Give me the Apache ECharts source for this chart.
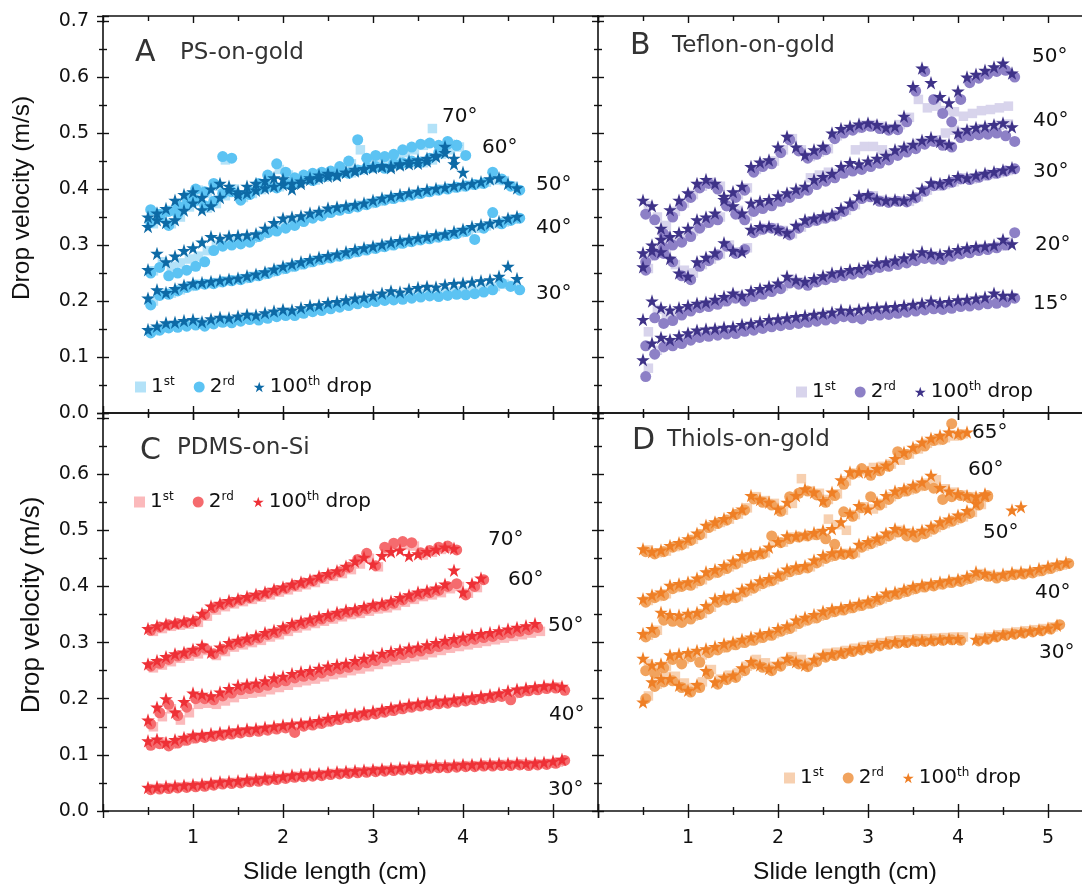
<!DOCTYPE html>
<html><head><meta charset="utf-8">
<script src="https://cdn.jsdelivr.net/npm/echarts@6/dist/echarts.min.js"></script>
<style>html,body{margin:0;padding:0;background:#fff}#c{width:1082px;height:884px}</style>
</head><body><div id="c"></div><script>
// ---------- DATA (drop velocity, m/s; x sampled every 0.1 cm from the start value) ----------
const X_START = { first: 0.56, second: 0.53, hundredth: 0.50 };
const X_STEP = 0.1;
const X_TICK_LABELS = ['1', '2', '3', '4', '5'];

// Panel A: PS-on-gold
const A30_1st = [.147,.152,.156,.158,.160,.162,.160,.164,.167,.166,.169,.172,.171,.175,.178,.180,.179,.183,.186,.188,.191,.194,.197,.200,.202,.204,.206,.207,.209,.211,.213,.214,.215,.216,.218,.219,.221,.223,.226,.230,.228];
const A30_2nd = [.143,.148,.152,.153,.155,.157,.155,.159,.162,.161,.164,.167,.166,.169,.172,.174,.174,.178,.181,.183,.186,.189,.192,.195,.197,.199,.201,.202,.203,.205,.207,.209,.208,.210,.212,.211,.213,.216,.220,.232,.226,.220];
const A30_100th = [.149,.155,.161,.162,.165,.167,.163,.168,.171,.170,.173,.176,.175,.179,.182,.185,.184,.188,.192,.193,.197,.199,.202,.205,.207,.210,.214,.218,.216,.221,.224,.226,.225,.229,.231,.232,.234,.236,.238,.244,.262,.240];
const A40_1st = [.200,.214,.214,.220,.226,.230,.231,.233,.236,.238,.240,.244,.247,.251,.256,.260,.264,.268,.272,.276,.279,.282,.286,.290,.293,.296,.299,.302,.305,.308,.311,.313,.316,.319,.322,.326,.330,.334,.338,.341,.346];
const A40_2nd = [.193,.210,.212,.218,.224,.228,.230,.231,.234,.236,.238,.242,.245,.249,.254,.258,.262,.266,.270,.274,.277,.280,.284,.288,.291,.294,.297,.300,.303,.306,.309,.311,.314,.317,.320,.324,.310,.330,.358,.338,.344,.348];
const A40_100th = [.205,.220,.215,.222,.228,.232,.233,.235,.237,.239,.241,.245,.248,.252,.257,.262,.266,.270,.274,.278,.281,.284,.288,.292,.295,.298,.301,.305,.308,.310,.313,.315,.318,.320,.324,.328,.333,.336,.339,.342,.348,.351];
const A50_1st = [.254,.270,.262,.268,.275,.280,.290,.300,.304,.308,.310,.312,.318,.326,.333,.340,.344,.348,.353,.357,.362,.365,.368,.371,.374,.378,.382,.385,.388,.391,.394,.397,.400,.402,.404,.407,.409,.412,.416,.415,.405];
const A50_2nd = [.250,.260,.245,.250,.255,.262,.270,.290,.298,.300,.302,.305,.315,.322,.325,.330,.335,.342,.348,.352,.358,.362,.365,.368,.372,.376,.380,.383,.386,.389,.392,.395,.398,.400,.403,.405,.408,.410,.430,.418,.405,.398];
const A50_100th = [.256,.285,.270,.280,.290,.295,.305,.315,.312,.316,.317,.318,.320,.330,.340,.348,.350,.352,.357,.360,.366,.368,.370,.372,.375,.380,.384,.387,.390,.393,.396,.399,.401,.403,.406,.408,.410,.413,.418,.420,.410,.402];
const A60_1st = [.338,.352,.338,.350,.368,.378,.366,.374,.388,.396,.389,.392,.399,.403,.404,.409,.411,.416,.416,.421,.424,.428,.429,.434,.437,.439,.439,.443,.445,.447,.447,.452,.462,.470,.475];
const A60_2nd = [.340,.350,.335,.355,.372,.380,.370,.378,.392,.395,.388,.390,.400,.405,.402,.410,.412,.418,.415,.422,.425,.430,.428,.434,.438,.440,.437,.445,.447,.450,.448,.455,.465,.480,.478,.460];
const A60_100th = [.333,.357,.340,.345,.362,.375,.363,.370,.385,.399,.390,.393,.398,.402,.405,.408,.410,.414,.417,.420,.423,.426,.430,.435,.436,.438,.440,.441,.443,.445,.446,.450,.458,.476,.455,.430];
const A70_1st = [.358,.350,.362,.375,.388,.398,.392,.405,.452,.400,.385,.398,.408,.420,.435,.425,.410,.418,.424,.428,.430,.435,.445,.470,.450,.455,.455,.460,.465,.470,.478,.508,.475,.480];
const A70_2nd = [.363,.355,.360,.370,.385,.400,.395,.410,.458,.455,.380,.395,.410,.425,.445,.430,.420,.425,.428,.430,.432,.440,.450,.488,.455,.460,.458,.462,.470,.475,.480,.482,.478,.485,.478];
const A70_100th = [.350,.345,.365,.380,.390,.395,.385,.400,.410,.405,.395,.405,.410,.415,.420,.418,.400,.410,.420,.425,.428,.424,.430,.432,.436,.440,.442,.438,.445,.450,.452,.455,.460,.465,.445];

// Panel B: Teflon-on-gold
const B15_1st = [.080,.112,.125,.126,.131,.136,.141,.143,.145,.147,.148,.152,.154,.157,.160,.162,.164,.166,.168,.170,.172,.174,.178,.177,.178,.181,.182,.183,.184,.186,.188,.190,.193,.191,.193,.196,.197,.199,.201,.203,.204];
const B15_2nd = [.065,.105,.118,.120,.124,.130,.135,.137,.139,.141,.142,.146,.148,.151,.154,.156,.158,.160,.162,.164,.166,.168,.172,.170,.168,.174,.175,.176,.178,.180,.182,.184,.186,.185,.187,.190,.191,.193,.195,.196,.198,.205];
const B15_100th = [.095,.125,.135,.131,.138,.143,.148,.150,.151,.153,.154,.158,.160,.163,.167,.168,.170,.172,.174,.176,.178,.180,.184,.183,.185,.187,.188,.189,.190,.192,.194,.196,.200,.197,.199,.202,.203,.205,.207,.214,.210,.210];
const B20_1st = [.145,.185,.175,.175,.182,.188,.192,.194,.198,.204,.210,.206,.213,.217,.222,.227,.238,.234,.232,.237,.242,.246,.249,.252,.254,.259,.264,.266,.269,.272,.277,.282,.280,.279,.284,.288,.291,.294,.295,.298,.305];
const B20_2nd = [.120,.170,.160,.165,.175,.182,.188,.190,.194,.200,.205,.200,.208,.212,.217,.222,.232,.230,.228,.234,.238,.242,.245,.248,.250,.256,.260,.262,.265,.268,.272,.276,.275,.274,.280,.284,.286,.290,.292,.295,.300,.322];
const B20_100th = [.167,.200,.188,.184,.188,.192,.196,.198,.203,.208,.214,.210,.218,.222,.226,.232,.244,.238,.235,.240,.245,.250,.252,.256,.258,.262,.268,.270,.273,.277,.282,.288,.285,.283,.288,.292,.295,.297,.298,.300,.310,.302];
const B30_1st = [.258,.286,.286,.265,.255,.250,.265,.275,.284,.300,.288,.295,.325,.330,.331,.326,.320,.332,.342,.346,.350,.354,.362,.372,.385,.388,.380,.378,.379,.378,.386,.398,.405,.408,.413,.420,.418,.423,.426,.429,.433];
const B30_2nd = [.255,.282,.285,.270,.245,.238,.262,.272,.282,.298,.285,.292,.322,.328,.330,.325,.318,.330,.340,.344,.348,.352,.360,.370,.383,.386,.378,.376,.378,.377,.384,.396,.406,.407,.412,.418,.417,.421,.425,.428,.432,.436];
const B30_100th = [.261,.290,.288,.276,.250,.244,.270,.278,.286,.304,.290,.288,.328,.333,.333,.328,.322,.335,.345,.348,.352,.355,.365,.375,.388,.390,.382,.380,.381,.380,.388,.400,.411,.410,.415,.422,.420,.425,.428,.431,.434,.438];
const B40_1st = [.280,.292,.305,.308,.315,.325,.338,.345,.350,.380,.362,.352,.368,.372,.376,.384,.390,.397,.420,.425,.430,.428,.436,.470,.476,.476,.470,.462,.468,.474,.480,.485,.488,.500,.505,.502,.505,.508,.510,.514,.516];
const B40_2nd = [.270,.285,.295,.300,.305,.315,.330,.340,.345,.370,.355,.345,.360,.365,.370,.378,.385,.392,.398,.408,.414,.420,.428,.432,.435,.440,.446,.452,.460,.466,.472,.480,.485,.478,.475,.492,.495,.497,.498,.500,.495,.485];
const B40_100th = [.286,.300,.310,.315,.322,.330,.345,.350,.357,.387,.370,.357,.375,.378,.381,.388,.393,.400,.405,.417,.422,.428,.440,.447,.445,.450,.455,.460,.470,.475,.480,.487,.492,.485,.480,.500,.506,.510,.512,.515,.518,.511];
const B50_1st = [.370,.350,.335,.360,.375,.390,.405,.412,.405,.378,.390,.402,.435,.445,.450,.470,.490,.470,.458,.466,.472,.495,.505,.508,.514,.515,.512,.508,.515,.528,.560,.545,.548,.540,.538,.530,.535,.540,.542,.545,.548];
const B50_2nd = [.355,.345,.320,.350,.370,.385,.402,.410,.400,.370,.385,.398,.430,.440,.445,.465,.488,.468,.455,.462,.470,.490,.500,.505,.510,.512,.508,.505,.506,.520,.575,.610,.560,.535,.520,.560,.590,.598,.605,.610,.612,.600];
const B50_100th = [.380,.370,.330,.363,.380,.393,.410,.417,.410,.381,.395,.405,.440,.448,.452,.475,.494,.475,.461,.470,.476,.500,.508,.512,.516,.518,.515,.510,.512,.530,.583,.616,.590,.565,.554,.575,.600,.605,.612,.618,.625,.607];

// Panel C: PDMS-on-Si
const C30_1st = [.040,.041,.042,.043,.044,.045,.046,.048,.050,.051,.052,.054,.055,.057,.058,.060,.062,.063,.064,.065,.067,.068,.069,.070,.071,.072,.073,.074,.075,.076,.077,.078,.079,.079,.080,.081,.081,.082,.082,.083,.083,.084,.083,.084,.085,.087];
const C30_2nd = [.038,.039,.040,.041,.042,.043,.044,.046,.048,.049,.050,.052,.053,.055,.056,.058,.060,.061,.062,.063,.065,.066,.067,.068,.069,.070,.071,.072,.073,.074,.075,.076,.077,.077,.078,.079,.079,.080,.080,.081,.081,.082,.081,.082,.083,.085,.090];
const C30_100th = [.042,.043,.044,.045,.046,.047,.048,.050,.052,.053,.054,.056,.057,.059,.060,.062,.064,.065,.066,.067,.069,.070,.071,.072,.073,.074,.075,.076,.077,.078,.079,.080,.081,.081,.082,.083,.083,.084,.084,.085,.085,.086,.085,.086,.087,.089,.092];
const C40_1st = [.120,.123,.119,.124,.128,.132,.133,.135,.137,.139,.141,.143,.144,.146,.148,.150,.152,.153,.155,.158,.162,.165,.168,.170,.173,.175,.178,.181,.184,.187,.189,.191,.193,.194,.196,.198,.200,.202,.204,.206,.209,.213,.216,.218,.220,.221];
const C40_2nd = [.117,.120,.116,.121,.126,.130,.131,.133,.135,.137,.139,.141,.142,.144,.146,.148,.140,.151,.153,.156,.160,.163,.166,.168,.171,.173,.176,.179,.182,.185,.187,.189,.191,.192,.194,.196,.198,.200,.202,.204,.198,.211,.214,.216,.218,.219,.215];
const C40_100th = [.125,.128,.122,.127,.131,.135,.136,.138,.140,.142,.144,.146,.147,.149,.151,.153,.155,.156,.158,.161,.165,.168,.171,.173,.176,.178,.181,.184,.187,.190,.192,.194,.196,.197,.199,.201,.203,.205,.207,.210,.214,.217,.219,.221,.223,.224,.222];
const C50_1st = [.150,.168,.182,.162,.175,.190,.192,.190,.196,.202,.208,.210,.212,.216,.220,.224,.229,.232,.235,.239,.243,.246,.250,.253,.257,.261,.266,.269,.272,.275,.278,.282,.286,.290,.293,.296,.299,.302,.305,.308,.311,.314,.317,.320];
const C50_2nd = [.155,.175,.190,.170,.185,.200,.200,.198,.205,.210,.216,.218,.220,.224,.229,.232,.237,.240,.242,.246,.250,.253,.256,.260,.264,.268,.273,.276,.279,.282,.285,.289,.293,.297,.300,.303,.306,.309,.311,.314,.317,.320,.323,.327];
const C50_100th = [.162,.185,.200,.176,.195,.210,.208,.205,.212,.218,.224,.226,.228,.232,.237,.240,.245,.248,.250,.254,.258,.261,.263,.268,.272,.276,.281,.284,.287,.290,.292,.296,.300,.304,.307,.310,.313,.316,.318,.321,.324,.327,.330,.334];
const C60_1st = [.255,.260,.266,.272,.276,.280,.286,.277,.284,.292,.296,.300,.304,.310,.314,.320,.326,.330,.334,.338,.342,.346,.350,.352,.356,.360,.362,.366,.372,.377,.382,.385,.389,.396,.400,.388,.398];
const C60_2nd = [.258,.263,.270,.276,.280,.284,.290,.280,.288,.296,.300,.304,.308,.314,.318,.324,.330,.334,.338,.342,.346,.350,.354,.356,.360,.364,.366,.370,.376,.381,.386,.389,.393,.400,.405,.385,.400,.412];
const C60_100th = [.262,.268,.275,.280,.283,.288,.295,.283,.292,.300,.304,.308,.312,.318,.322,.328,.334,.338,.342,.346,.350,.354,.358,.360,.364,.368,.370,.374,.380,.385,.390,.393,.397,.404,.429,.390,.405,.415];
const C70_1st = [.320,.325,.329,.331,.333,.336,.347,.358,.364,.369,.373,.377,.381,.385,.390,.394,.399,.403,.407,.413,.418,.423,.430,.440,.450,.435,.462,.470,.474,.472,.456,.461,.466,.468];
const C70_2nd = [.322,.328,.332,.334,.336,.338,.350,.362,.368,.372,.376,.380,.384,.388,.393,.397,.402,.406,.410,.416,.421,.426,.434,.448,.459,.437,.470,.477,.480,.478,.460,.464,.470,.472,.465];
const C70_100th = [.325,.330,.333,.335,.338,.340,.352,.365,.370,.375,.378,.382,.386,.390,.395,.399,.404,.408,.412,.418,.423,.428,.436,.445,.452,.440,.455,.462,.465,.455,.458,.462,.466,.470,.468];

// Panel D: Thiols-on-gold
const D30_1st = [.205,.226,.240,.240,.228,.220,.230,.252,.235,.242,.246,.258,.270,.264,.258,.266,.275,.270,.264,.274,.281,.283,.286,.290,.293,.296,.300,.303,.305,.305,.307,.307,.308,.309,.310,.310,null,.308,.310,.314,.317,.319,.321,.323,.325,.328];
const D30_2nd = [.200,.222,.230,.232,.220,.212,.220,.244,.226,.234,.238,.250,.262,.256,.250,.258,.268,.262,.257,.266,.274,.277,.280,.284,.287,.290,.294,.297,.299,.300,.302,.302,.303,.304,.305,.304,null,.303,.306,.310,.313,.315,.317,.319,.321,.324,.332];
const D30_100th = [.194,.230,.236,.236,.224,.215,.225,.250,.230,.238,.242,.255,.266,.260,.254,.262,.272,.266,.260,.270,.278,.280,.283,.287,.290,.293,.297,.300,.302,.302,.304,.304,.305,.306,.307,.307,null,.306,.308,.312,.315,.317,.319,.321,.323,.326,.331];
const D40_1st = [.262,.252,.258,.274,.271,.279,.278,.286,.290,.295,.299,.303,.307,.312,.316,.322,.328,.337,.342,.347,.353,.357,.360,.364,.368,.372,.378,.385,.388,.393,.398,.401,.403,.406,.409,.411,.416,.423,.420,.418,.420,.423,.424,.426,.430,.434,.438];
const D40_2nd = [.250,.245,.255,.270,.262,.275,.265,.282,.287,.292,.296,.300,.304,.309,.313,.320,.325,.334,.340,.344,.350,.355,.358,.362,.366,.370,.376,.382,.386,.391,.396,.399,.401,.404,.407,.409,.414,.420,.418,.415,.418,.421,.422,.424,.428,.432,.437,.441];
const D40_100th = [.272,.260,.262,.278,.280,.282,.286,.289,.293,.298,.301,.306,.310,.315,.318,.325,.330,.340,.345,.350,.356,.360,.362,.366,.370,.374,.380,.388,.390,.395,.400,.403,.405,.408,.411,.413,.418,.426,.423,.420,.422,.425,.426,.428,.432,.436,.440,.443];
const D50_1st = [.313,.322,.345,.343,.342,.347,.352,.363,.375,.379,.382,.392,.400,.407,.412,.420,.428,.432,.435,.444,.452,.457,.459,.460,.472,.478,.484,.492,.500,.495,.492,.497,.505,.512,.518,.524,.532,.546];
const D50_2nd = [.310,.318,.340,.338,.336,.342,.350,.360,.372,.376,.380,.390,.397,.405,.410,.418,.426,.430,.433,.442,.450,.455,.457,.458,.470,.476,.482,.490,.497,.490,.488,.494,.502,.510,.516,.522,.530,.545,.560];
const D50_100th = [.316,.325,.354,.350,.349,.352,.354,.366,.378,.382,.384,.395,.402,.410,.414,.422,.431,.435,.437,.447,.455,.460,.461,.461,.475,.480,.486,.495,.503,.500,.497,.500,.507,.515,.520,.527,.535,.548,.562];
const D60_1st = [.375,.382,.387,.398,.402,.405,.412,.423,.428,.435,.442,.452,.456,.460,.480,.479,.488,.489,.491,.494,.520,.510,.500,.528,.542,.538,.548,.560,.568,.572,.578,.584,.590,.574,.568,.563,.560,.558];
const D60_2nd = [.372,.380,.384,.396,.400,.402,.410,.420,.425,.432,.440,.450,.455,.458,.490,.478,.485,.488,.490,.492,.485,.475,.533,.525,.540,.560,.545,.555,.565,.570,.575,.580,.575,.555,.560,.562,.558,.555,.562];
const D60_100th = [.378,.385,.390,.402,.405,.408,.415,.426,.430,.437,.445,.455,.458,.461,.470,.480,.490,.490,.492,.496,.500,.503,.515,.530,.544,.538,.550,.562,.570,.574,.580,.586,.598,.576,.570,.565,.562,.560,.565,null,null,.536,.542];
const D65_1st = [.465,.460,.463,.471,.476,.484,.494,.507,.514,.520,.529,.540,.560,.553,.548,.536,.548,.592,.570,.566,.555,.565,.588,.602,.606,.612,.614,.618,.625,.636,.645,.655,.660,.665,.668,.672];
const D65_2nd = [.462,.458,.462,.470,.474,.482,.492,.505,.512,.518,.528,.536,.556,.550,.545,.534,.560,.566,.570,.563,.550,.562,.582,.600,.610,.598,.606,.614,.640,.635,.645,.650,.660,.662,.690,.670];
const D65_100th = [.467,.462,.465,.473,.478,.485,.495,.509,.515,.521,.530,.538,.562,.555,.550,.538,.550,.562,.574,.568,.553,.568,.590,.604,.604,.604,.610,.616,.628,.639,.648,.657,.664,.669,.675,.673,.675];

const PANEL_LETTERS = ['A', 'B', 'C', 'D'];
const PANEL_NAMES = ['PS-on-gold', 'Teflon-on-gold', 'PDMS-on-Si', 'Thiols-on-gold'];
const ANGLES = [
  ['30°', '40°', '50°', '60°', '70°'],
  ['15°', '20°', '30°', '40°', '50°'],
  ['30°', '40°', '50°', '60°', '70°'],
  ['30°', '40°', '50°', '60°', '65°']
];
const CURVES = [
  [[A30_1st, A30_2nd, A30_100th], [A40_1st, A40_2nd, A40_100th], [A50_1st, A50_2nd, A50_100th], [A60_1st, A60_2nd, A60_100th], [A70_1st, A70_2nd, A70_100th]],
  [[B15_1st, B15_2nd, B15_100th], [B20_1st, B20_2nd, B20_100th], [B30_1st, B30_2nd, B30_100th], [B40_1st, B40_2nd, B40_100th], [B50_1st, B50_2nd, B50_100th]],
  [[C30_1st, C30_2nd, C30_100th], [C40_1st, C40_2nd, C40_100th], [C50_1st, C50_2nd, C50_100th], [C60_1st, C60_2nd, C60_100th], [C70_1st, C70_2nd, C70_100th]],
  [[D30_1st, D30_2nd, D30_100th], [D40_1st, D40_2nd, D40_100th], [D50_1st, D50_2nd, D50_100th], [D60_1st, D60_2nd, D60_100th], [D65_1st, D65_2nd, D65_100th]]
];
const DROPS = ['1st', '2nd', '100th'];

// ---------- STYLE / LAYOUT ----------
const COLORS = [
  ['#b3e2f8', '#5cc3f3', '#0d6aa6'],
  ['#d8d4ec', '#8d80c6', '#3e3288'],
  ['#fbb9bb', '#f56b6e', '#ee3036'],
  ['#f7d0b0', '#f1a35e', '#ef7f25']
];
const STAR = 'path://M10,0 L12.25,6.91 L19.51,6.91 L13.63,11.18 L15.88,18.09 L10,13.82 L4.12,18.09 L6.37,11.18 L0.49,6.91 L7.75,6.91 Z';
const SYMBOLS = ['rect', 'circle', STAR];
const SIZES = [9.5, 11, 13.5];
const GRIDS = [
  { left: 103, top: 16, width: 495, height: 397 },
  { left: 598, top: 16, width: 495, height: 397 },
  { left: 103, top: 413, width: 495, height: 398 },
  { left: 598, top: 413, width: 495, height: 398 }
];
const ANGLE_POS = [
  [[536, 294], [536, 228], [536, 185], [482, 148], [442, 117]],
  [[1033, 304], [1035, 245], [1033, 172], [1033, 121], [1032, 57]],
  [[548, 790], [549, 715], [548, 626], [508, 580], [488, 540]],
  [[1039, 653], [1035, 593], [983, 533], [968, 470], [972, 433]]
];
const TITLE_POS = [[135, 53, 180, 53], [630, 46, 672, 46], [140, 451, 177, 448], [632, 441, 667, 440]];
const LEGEND_POS = [[130, 371], [791, 376], [129, 486], [779, 762]];

const FONT = 'DejaVu Sans';
const TITLE_FONT = 'Liberation Sans, Arial, sans-serif';
const INK = '#111';
const lineStyle = { color: INK, width: 1.6 };
const tickStyle = { color: INK, width: 1.4 };

const xAxis = [], yAxis = [], series = [], legend = [], graphic = [];

GRIDS.forEach((g, gi) => {
  const bottomRow = gi >= 2;
  const base = { gridIndex: gi, type: 'value', min: 0, max: 5.5, interval: 1, splitLine: { show: false }, minorSplitLine: { show: false } };
  xAxis.push(Object.assign({}, base, {
    position: 'bottom',
    axisLine: { show: true, onZero: false, lineStyle },
    axisTick: { show: true, inside: false, length: 7, lineStyle: tickStyle },
    minorTick: { show: true, splitNumber: 2, length: 4, lineStyle: tickStyle },
    axisLabel: {
      show: bottomRow, margin: 18, fontFamily: FONT, fontSize: 19, color: INK,
      formatter: v => {
        const r = Math.round(v);
        return (Math.abs(v - r) < 1e-6 && r >= 1 && r <= 5) ? X_TICK_LABELS[r - 1] : '';
      }
    }
  }));
  xAxis.push(Object.assign({}, base, {
    position: 'bottom',
    axisLine: { show: false, onZero: false },
    axisTick: { show: true, inside: true, length: 7, lineStyle: tickStyle },
    minorTick: { show: true, splitNumber: 2, length: 4, lineStyle: tickStyle },
    axisLabel: { show: false }
  }));
  xAxis.push(Object.assign({}, base, {
    position: 'top',
    axisLine: { show: true, onZero: false, lineStyle },
    axisTick: { show: true, inside: true, length: 7, lineStyle: tickStyle },
    minorTick: { show: true, splitNumber: 2, length: 5, lineStyle: tickStyle },
    axisLabel: { show: false }
  }));
  const ybase = { gridIndex: gi, type: 'value', min: 0, max: 0.709, interval: 0.1, position: 'left',
    splitLine: { show: false }, minorSplitLine: { show: false } };
  yAxis.push(Object.assign({}, ybase, {
    axisLine: { show: true, onZero: false, lineStyle },
    axisTick: { show: true, inside: false, length: 6, lineStyle: tickStyle },
    minorTick: { show: true, splitNumber: 2, length: 4, lineStyle: tickStyle },
    axisLabel: {
      show: gi % 2 === 0, margin: 14, fontFamily: FONT, fontSize: 19, color: INK,
      formatter: v => (bottomRow && v > 0.65) ? '' : v.toFixed(1)
    }
  }));
  yAxis.push(Object.assign({}, ybase, {
    axisLine: { show: false, onZero: false },
    axisTick: { show: true, inside: true, length: 6, lineStyle: tickStyle },
    minorTick: { show: true, splitNumber: 2, length: 4, lineStyle: tickStyle },
    axisLabel: { show: false }
  }));

  CURVES[gi].forEach(curve => {
    curve.forEach((ys, di) => {
      const x0 = [X_START.first, X_START.second, X_START.hundredth][di];
      series.push({
        type: 'scatter',
        name: PANEL_LETTERS[gi] + '-' + DROPS[di],
        xAxisIndex: gi * 3, yAxisIndex: gi * 2,
        symbol: SYMBOLS[di], symbolSize: SIZES[di],
        itemStyle: { color: COLORS[gi][di], opacity: 1 },
        z: 2 + di, silent: true, animation: false,
        data: ys.map((y, i) => [+(x0 + i * X_STEP).toFixed(3), y === null ? '-' : y])
      });
    });
  });

  legend.push({
    left: LEGEND_POS[gi][0], top: LEGEND_POS[gi][1], orient: 'horizontal',
    itemWidth: 11, itemHeight: 11, itemGap: 19, selectedMode: false,
    data: DROPS.map((d, di) => ({ name: PANEL_LETTERS[gi] + '-' + d, icon: SYMBOLS[di] })),
    formatter: name => {
      const d = name.split('-')[1];
      if (d === '1st') return '{n|1}{s|st}';
      if (d === '2nd') return '{n|2}{s|rd}';
      return '{n|100}{s|th}{n| drop}';
    },
    textStyle: {
      fontFamily: FONT, fontSize: 20, color: INK,
      rich: {
        n: { fontFamily: FONT, fontSize: 20, color: INK, lineHeight: 22 },
        s: { fontFamily: FONT, fontSize: 12, color: INK, verticalAlign: 'top', lineHeight: 12 }
      }
    }
  });

  const tp = TITLE_POS[gi];
  graphic.push({ type: 'text', x: tp[0], y: tp[1], z: 100,
    style: { text: PANEL_LETTERS[gi], fontFamily: FONT, fontSize: 30, fill: '#333', verticalAlign: 'middle', align: 'left' } });
  graphic.push({ type: 'text', x: tp[2], y: tp[3], z: 100,
    style: { text: PANEL_NAMES[gi], fontFamily: FONT, fontSize: 23, fill: '#333', verticalAlign: 'middle', align: 'left' } });
  ANGLES[gi].forEach((a, ci) => {
    graphic.push({ type: 'text', x: ANGLE_POS[gi][ci][0], y: ANGLE_POS[gi][ci][1], z: 100,
      style: { text: a, fontFamily: FONT, fontSize: 20, fill: INK, verticalAlign: 'middle', align: 'left' } });
  });
});

graphic.push({ type: 'text', x: 22, y: 198, rotation: Math.PI / 2, z: 100,
  style: { text: 'Drop velocity (m/s)', fontFamily: TITLE_FONT, fontSize: 24.5, fill: INK, align: 'center', verticalAlign: 'middle' } });
graphic.push({ type: 'text', x: 32, y: 605, rotation: Math.PI / 2, z: 100,
  style: { text: 'Drop velocity (m/s)', fontFamily: TITLE_FONT, fontSize: 26, fill: INK, align: 'center', verticalAlign: 'middle' } });
graphic.push({ type: 'text', x: 335, y: 872, z: 100,
  style: { text: 'Slide length (cm)', fontFamily: TITLE_FONT, fontSize: 24.5, fill: INK, align: 'center', verticalAlign: 'middle' } });
graphic.push({ type: 'text', x: 845, y: 872, z: 100,
  style: { text: 'Slide length (cm)', fontFamily: TITLE_FONT, fontSize: 24.5, fill: INK, align: 'center', verticalAlign: 'middle' } });

const chart = echarts.init(document.getElementById('c'), null, { renderer: 'canvas' });
chart.setOption({
  backgroundColor: '#fff',
  animation: false,
  grid: GRIDS.map(g => Object.assign({ outerBoundsMode: 'none', containLabel: false }, g)),
  xAxis, yAxis, series, legend, graphic
});
</script></body></html>
